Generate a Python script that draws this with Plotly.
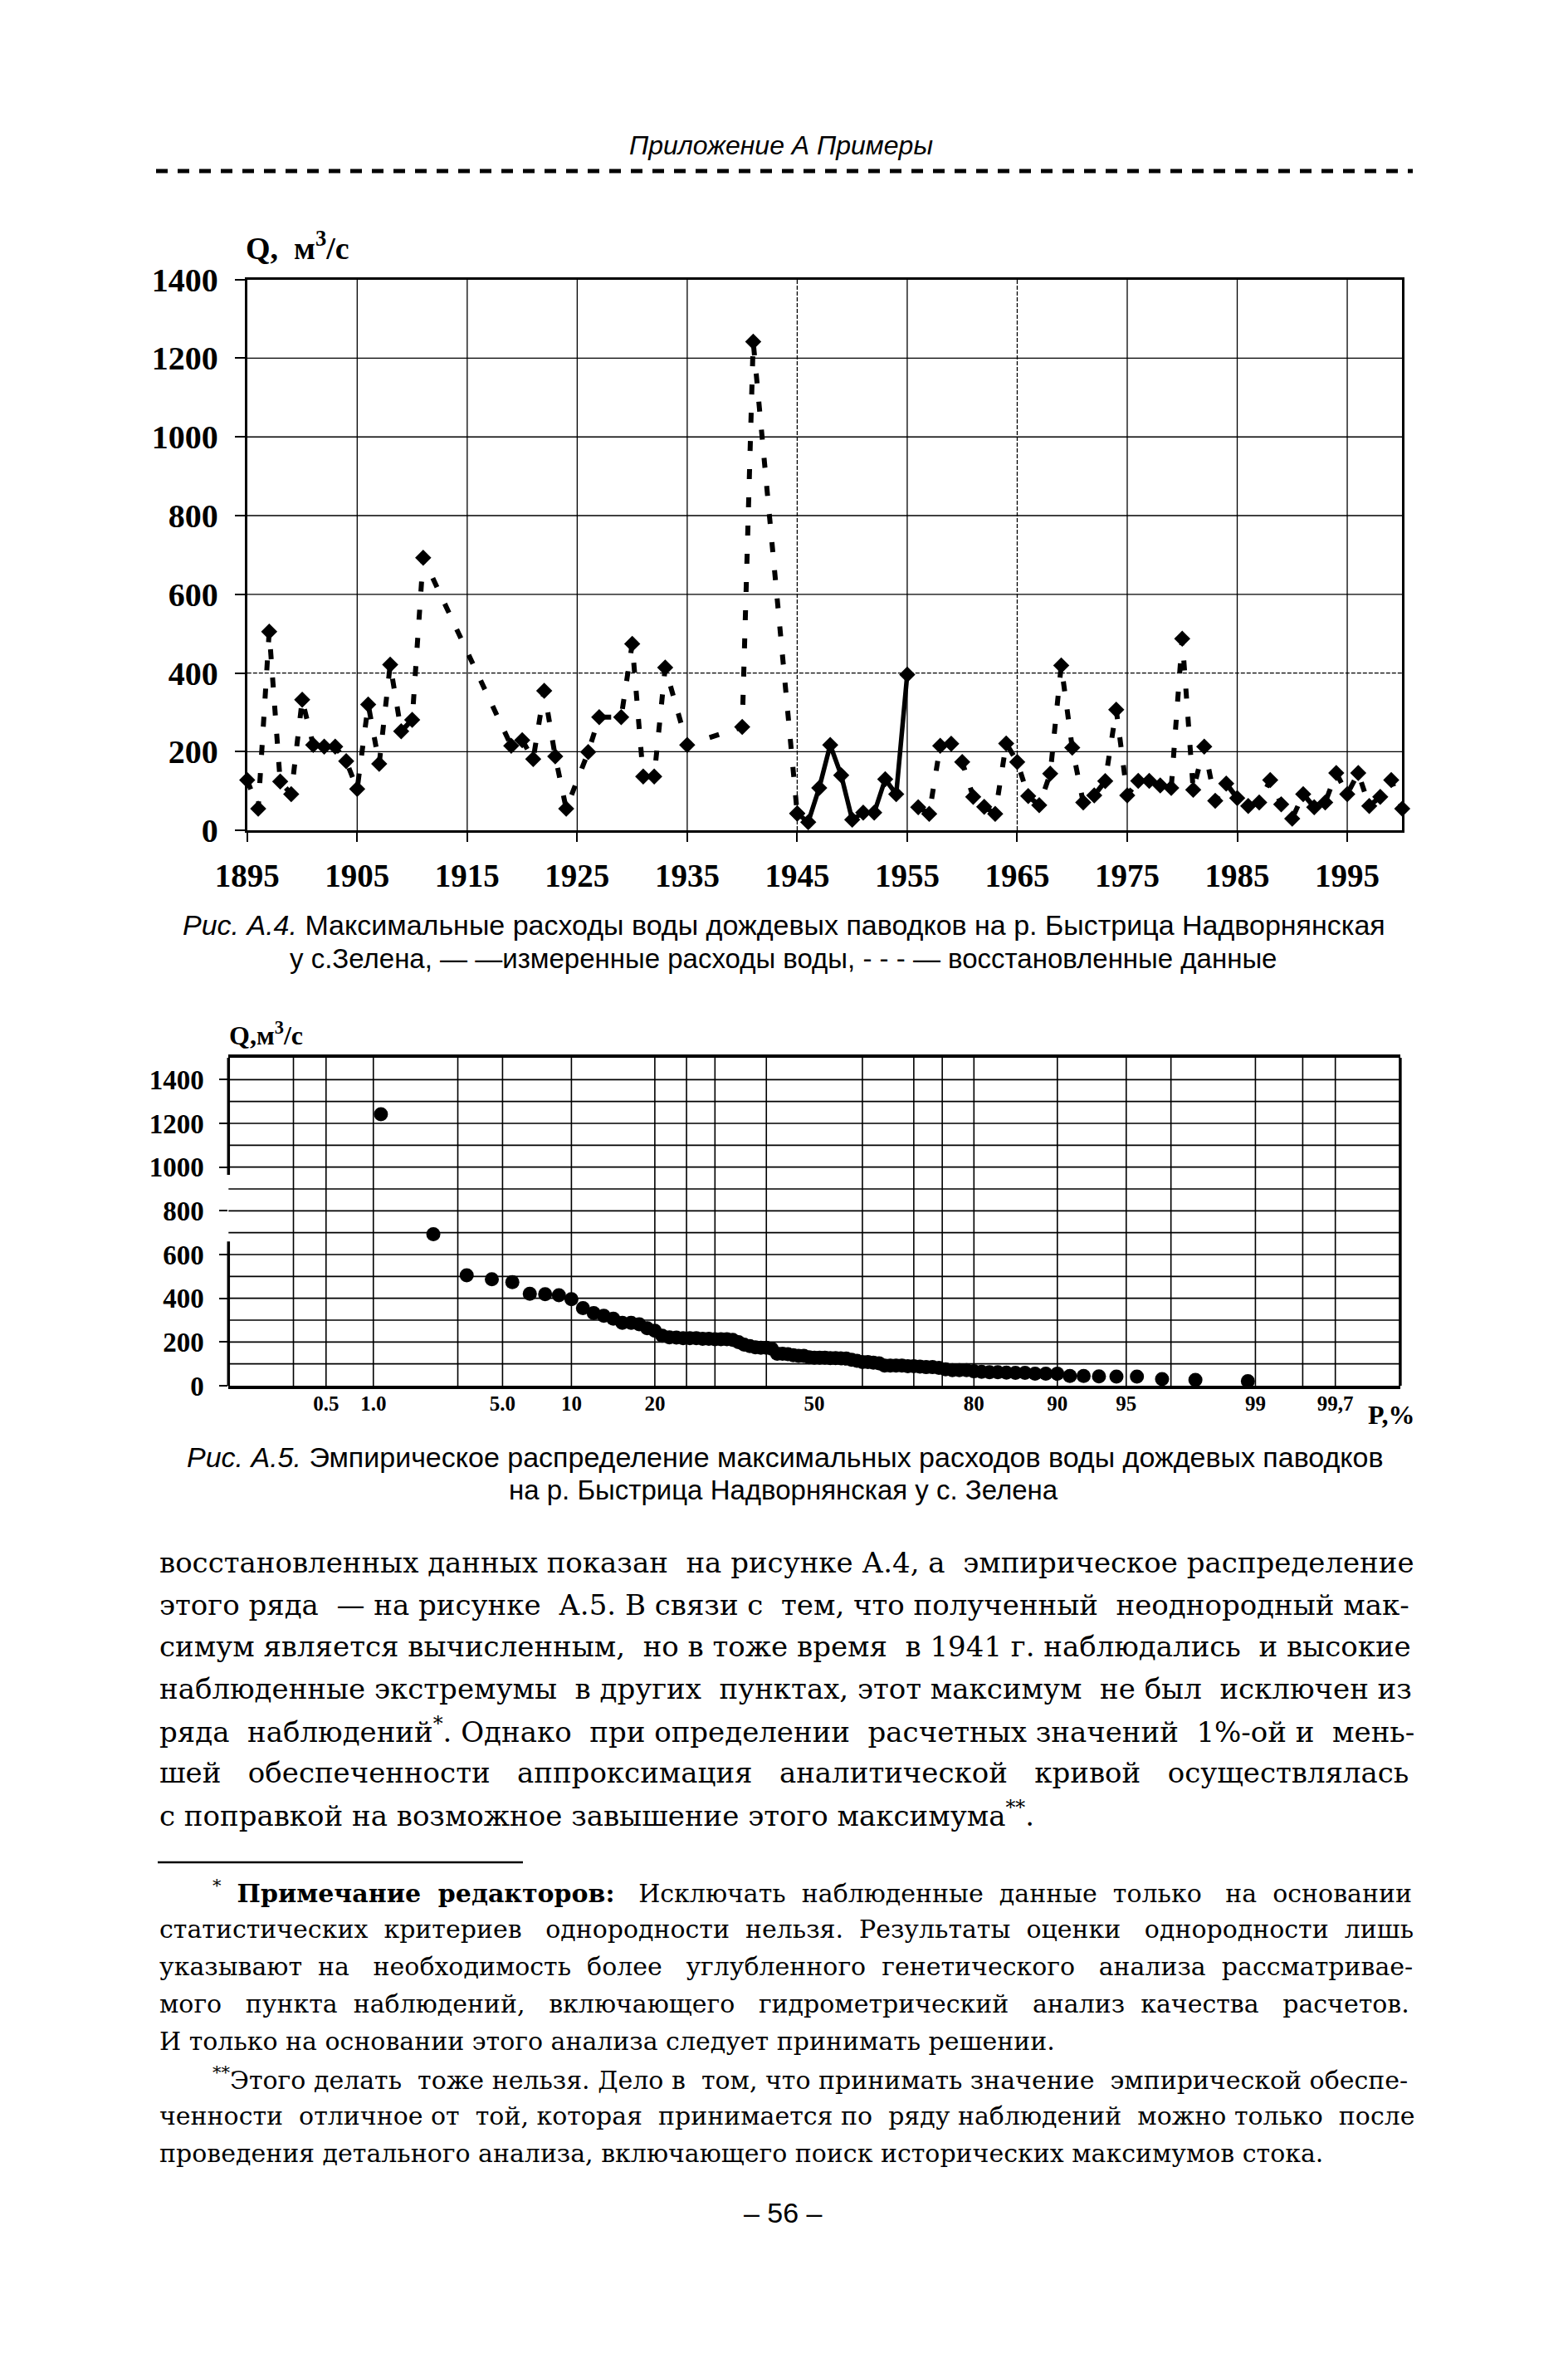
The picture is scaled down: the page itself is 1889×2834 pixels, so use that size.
import plotly.graph_objects as go
from statistics import NormalDist

W, H = 1889, 2834

# ---------------- Fig. A.4 data (max rain-flood discharge, m3/s) ----------------
years_restored_1 = [1895, 1896, 1897, 1898, 1899, 1900, 1901, 1902, 1903, 1904, 1905, 1906,
                    1907, 1908, 1909, 1910, 1911, 1919, 1920, 1921, 1922, 1923, 1924, 1926,
                    1927, 1929, 1930, 1931, 1932, 1933, 1935, 1940, 1941, 1945]
q_restored_1 = [128, 55, 505, 124, 92, 332, 217, 213, 213, 176, 105, 320,
                169, 421, 252, 281, 693, 215, 229, 181, 355, 188, 55, 199,
                288, 288, 474, 137, 137, 414, 217, 263, 1242, 43]

years_measured = [1945, 1946, 1947, 1948, 1949, 1950, 1951, 1952, 1953, 1954, 1955]
q_measured = [43, 21, 108, 217, 140, 27, 45, 45, 130, 92, 396]

years_restored_2 = [1956, 1957, 1958, 1959, 1960, 1961, 1962, 1963, 1964, 1965,
                    1966, 1967, 1968, 1969, 1970, 1971, 1972, 1973, 1974, 1975,
                    1976, 1977, 1978, 1979, 1980, 1981, 1982, 1983, 1984, 1985,
                    1986, 1987, 1988, 1989, 1990, 1991, 1992, 1993, 1994, 1995,
                    1996, 1997, 1998, 1999, 2000]
q_restored_2 = [59, 42, 215, 220, 174, 85, 60, 42, 221, 174,
                87, 64, 144, 419, 210, 71, 89, 125, 307, 89,
                126, 126, 114, 108, 487, 103, 213, 75, 119, 82,
                62, 71, 128, 66, 30, 92, 59, 71, 146, 92,
                146, 62, 85, 128, 55]

top_x_ticks = [1895, 1905, 1915, 1925, 1935, 1945, 1955, 1965, 1975, 1985, 1995]
top_x_dashed = [1945, 1965]
top_y_ticks = [0, 200, 400, 600, 800, 1000, 1200, 1400]
top_y_dashed = [400]

# ---------------- Fig. A.5 axes ----------------
bottom_y_labels = [0, 200, 400, 600, 800, 1000, 1200, 1400]
bottom_y_grid = [100, 200, 300, 400, 500, 600, 700, 800, 900, 1000, 1100, 1200, 1300, 1400]
prob_grid = [0.3, 0.5, 1, 3, 5, 10, 20, 25, 30, 40, 60, 70, 75, 80, 90, 95, 97, 99, 99.5, 99.7]
prob_ticks = [0.5, 1, 5, 10, 20, 50, 80, 90, 95, 99, 99.7]
prob_labels = ["0.5", "1.0", "5.0", "10", "20", "50", "80", "90", "95", "99", "99,7"]

nd = NormalDist()
def zp(p):
    return nd.inv_cdf(p / 100.0)

# empirical distribution from the series
series = {}
for ys, qs in ((years_restored_1, q_restored_1), (years_measured, q_measured),
               (years_restored_2, q_restored_2)):
    for yv, qv in zip(ys, qs):
        series[yv] = qv
q_sorted = sorted(series.values(), reverse=True)
n = len(q_sorted)
p_emp = [100.0 * (m + 1) / (n + 1) for m in range(n)]
z_emp = [zp(p) for p in p_emp]

def px(x):
    return x / W

def py(y):
    return 1 - y / H

fig = go.Figure()

dot_line = dict(color="black", width=6, dash="12px,22px")
diamond = dict(symbol="diamond", size=15, color="black")

fig.add_trace(go.Scatter(x=years_restored_1, y=q_restored_1, mode="lines+markers",
                         line=dot_line, marker=diamond, cliponaxis=False,
                         xaxis="x", yaxis="y", name="восстановленные"))
fig.add_trace(go.Scatter(x=years_measured, y=q_measured, mode="lines+markers",
                         line=dict(color="black", width=5.5), marker=diamond, cliponaxis=False,
                         xaxis="x", yaxis="y", name="измеренные"))
fig.add_trace(go.Scatter(x=years_restored_2, y=q_restored_2, mode="lines+markers",
                         line=dot_line, marker=diamond, cliponaxis=False,
                         xaxis="x", yaxis="y", name="восстановленные"))

fig.add_trace(go.Scatter(x=z_emp, y=q_sorted, mode="markers",
                         marker=dict(symbol="circle", size=17, color="black"),
                         cliponaxis=False, xaxis="x2", yaxis="y2", name="эмпир."))

shapes = []
# --- top chart gridlines
for v in top_y_ticks[1:-1]:
    shapes.append(dict(type="line", xref="x", yref="y", x0=1895, x1=2000, y0=v, y1=v,
                       line=dict(color="black", width=1.3,
                                 dash="5px,2px" if v in top_y_dashed else "solid"),
                       layer="below"))
for yr in top_x_ticks[1:]:
    shapes.append(dict(type="line", xref="x", yref="y", x0=yr, x1=yr, y0=0, y1=1400,
                       line=dict(color="black", width=1.3,
                                 dash="5px,2px" if yr in top_x_dashed else "solid"),
                       layer="below"))
# --- bottom chart gridlines
for v in bottom_y_grid:
    shapes.append(dict(type="line", xref="x2 domain", yref="y2", x0=0, x1=1, y0=v, y1=v,
                       line=dict(color="black", width=1.6), layer="below"))
for p in prob_grid:
    shapes.append(dict(type="line", xref="x2", yref="y2 domain", x0=zp(p), x1=zp(p), y0=0, y1=1,
                       line=dict(color="black", width=1.6), layer="below"))
# bottom chart left border (with the break seen in the original) and right border
for a, b in ((0, 660), (965, 1500)):
    shapes.append(dict(type="line", xref="x2 domain", yref="y2", x0=0, x1=0, y0=a, y1=b,
                       line=dict(color="black", width=3.5)))
shapes.append(dict(type="line", xref="x2 domain", yref="y2", x0=1, x1=1, y0=0, y1=1500,
                   line=dict(color="black", width=3.5)))
# header dashed rule and footnote rule
shapes.append(dict(type="line", xref="paper", yref="paper", x0=px(188), x1=px(1702),
                   y0=py(206), y1=py(206), line=dict(color="black", width=5, dash="14px,12px")))
shapes.append(dict(type="line", xref="paper", yref="paper", x0=px(190), x1=px(630),
                   y0=py(2243), y1=py(2243), line=dict(color="black", width=2.5)))

ann = []
def text(t, x, y, size, family, xanchor="center", weight="normal", style="normal"):
    ann.append(dict(text=t, x=px(x), y=py(y), xref="paper", yref="paper",
                    xanchor=xanchor, yanchor="middle", showarrow=False,
                    font=dict(size=size, family=family, color="black",
                              weight=weight, style=style)))

def justify(line, extra):
    """spread `extra` non-breaking spaces evenly over the word gaps"""
    words = line.split(" ")
    gaps = len(words) - 1
    if gaps <= 0 or extra <= 0:
        return line
    add = [extra // gaps] * gaps
    rem = extra % gaps
    for k in range(rem):
        add[int((k + 0.5) * gaps / rem)] += 1
    out = words[0]
    for i, w in enumerate(words[1:]):
        out += " " + "\u00a0" * add[i] + w
    return out

SANS = "Liberation Sans"
SERIF = "Liberation Serif"
BODY = "DejaVu Serif"

text("Приложение А Примеры", 941, 175, 32, SANS, style="italic")

text("Q,\u00a0\u00a0м<sup>3</sup>/с", 294, 296, 38, SERIF, xanchor="left", weight="bold")
text("Q,м<sup>3</sup>/с", 274, 1245, 32, SERIF, xanchor="left", weight="bold")
text("P,%", 1676, 1704, 32, SERIF, weight="bold")

text("<i>Рис. А.4.</i> Максимальные расходы воды дождевых паводков на р. Быстрица Надворнянская",
     944, 1114, 34, SANS)
text("у с.Зелена, — —измеренные расходы воды, - - - — восстановленные данные",
     943, 1155, 33, SANS)
text("<i>Рис. А.5.</i> Эмпирическое распределение максимальных расходов воды дождевых паводков",
     946, 1755, 34, SANS)
text("на р. Быстрица Надворнянская у с. Зелена", 944, 1795, 33, SANS)

body = [
    ("восстановленных данных показан на рисунке А.4, а эмпирическое распределение", 2),
    ("этого ряда — на рисунке А.5. В связи с тем, что полученный неоднородный мак-", 4),
    ("симум является вычисленным, но в тоже время в 1941 г. наблюдались и высокие", 3),
    ("наблюденные экстремумы в других пунктах, этот максимум не был исключен из", 4),
    ("ряда наблюдений<sup>*</sup>. Однако при определении расчетных значений 1%-ой и мень-", 5),
    ("шей обеспеченности аппроксимация аналитической кривой осуществлялась", 10),
    ("с поправкой на возможное завышение этого максимума<sup>**</sup>.", 0),
]
for i, (line, extra) in enumerate(body):
    text(justify(line, extra), 190, 1882 + i * 50.5, 34, BODY, xanchor="left")

notes = [
    (254, "<sup>*</sup> <b>Примечание редакторов:</b> Исключать наблюденные данные только на основании", 10),
    (190, "статистических критериев однородности нельзя. Результаты оценки однородности лишь", 9),
    (190, "указывают на необходимость более углубленного генетического анализа рассматривае-", 10),
    (190, "мого пункта наблюдений, включающего гидрометрический анализ качества расчетов.", 12),
    (190, "И только на основании этого анализа следует принимать решении.", 0),
    (254, "<sup>**</sup>Этого делать тоже нельзя. Дело в том, что принимать значение эмпирической обеспе-", 3),
    (190, "ченности отличное от той, которая принимается по ряду наблюдений можно только после", 6),
    (190, "проведения детального анализа, включающего поиск исторических максимумов стока.", 0),
]
for i, (x0, line, extra) in enumerate(notes):
    text(justify(line, extra), x0, 2278 + i * 45, 30, BODY, xanchor="left")

text("– 56 –", 943, 2665, 34, SANS)

axis_common = dict(showline=True, mirror=True, linecolor="black", showgrid=False,
                   zeroline=False, ticks="outside", tickcolor="black", automargin=False)

fig.update_layout(
    template="none",
    width=W, height=H, margin=dict(l=0, r=0, t=0, b=0, pad=0, autoexpand=False),
    autosize=False,
    paper_bgcolor="white", plot_bgcolor="white", showlegend=False,
    shapes=shapes, annotations=ann,
    xaxis=dict(domain=[px(297.8), px(1689.3)], range=[1895, 2000], anchor="y",
               tickvals=top_x_ticks, ticklen=11, tickwidth=1.5, linewidth=3,
               tickfont=dict(family=SERIF, size=39, weight="bold", color="black"),
               ticklabelstandoff=7, **axis_common),
    yaxis=dict(domain=[py(1000.1), py(336.7)], range=[0, 1400], anchor="x",
               tickvals=top_y_ticks, ticklen=12, tickwidth=1.5, linewidth=3,
               tickfont=dict(family=SERIF, size=40, weight="bold", color="black"),
               ticklabelstandoff=12, **axis_common),
    xaxis2=dict(domain=[px(275.3), px(1686.9)], range=[zp(0.1), zp(99.9)], anchor="y2",
                tickvals=[zp(p) for p in prob_ticks], ticktext=prob_labels,
                showline=True, mirror=True, linecolor="black", linewidth=3.5,
                showgrid=False, zeroline=False, ticks="", automargin=False,
                tickfont=dict(family=SERIF, size=25, weight="bold", color="black"),
                ticklabelstandoff=-4),
    yaxis2=dict(domain=[py(1669), py(1274)], range=[0, 1500], anchor="x2",
                tickvals=bottom_y_labels, showline=False, showgrid=False, zeroline=False,
                ticks="outside", ticklen=10, tickwidth=1.5, tickcolor="black", automargin=False,
                tickfont=dict(family=SERIF, size=33, weight="bold", color="black"),
                ticklabelstandoff=12),
)

fig.write_html("out.html", config={"displayModeBar": False},
               post_script="document.body.style.margin='0';")
